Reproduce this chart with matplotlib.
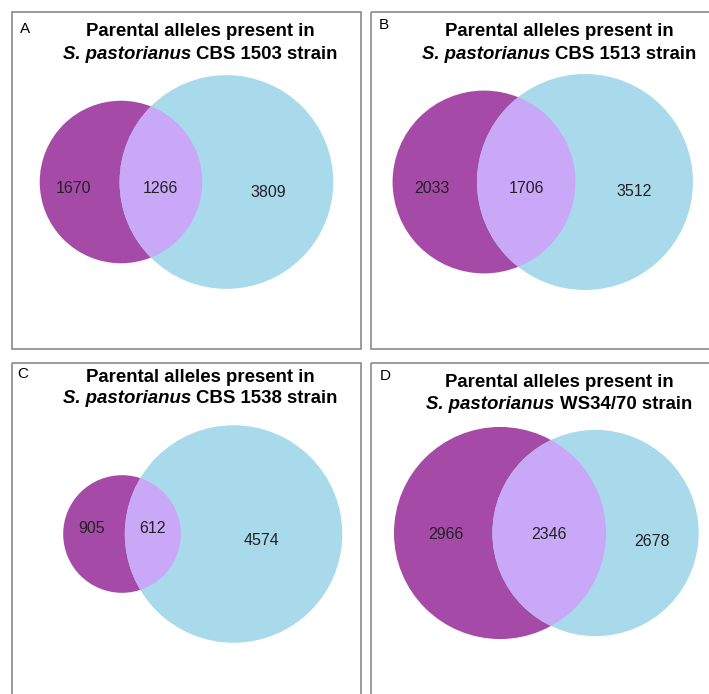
import matplotlib
matplotlib.use('Agg')

import math
import matplotlib.pyplot as plt
from matplotlib.patches import Circle, Rectangle

# counts of parental alleles per strain
PANELS = ["A", "B", "C", "D"]
STRAINS = ["CBS 1503", "CBS 1513", "CBS 1538", "WS34/70"]
LEFT_ONLY = [1670, 2033, 905, 2966]
SHARED = [1266, 1706, 612, 2346]
RIGHT_ONLY = [3809, 3512, 4574, 2678]

# layout (pixels, y pointing down)
WIDTH_PX = 709
HEIGHT_PX = 694
BOXES = [(12, 12), (371, 12), (12, 363), (371, 363)]
BOX_W = 349
BOX_H = 337
LEFT_CENTER = [(121, 182), (484, 182), (122, 534), (500, 533)]
SCALE = [1.50, 1.495, 1.51, 1.455]        # radius = SCALE * sqrt(count)
OVERLAP_GAIN = 1.18                       # lens width vs. shared fraction of smaller set
TITLE_Y = [(36, 59), (36, 59), (382, 403), (387, 409)]
LETTER_POS = [(20, 22), (379, 18), (17, 367), (380, 369)]
LABEL_DY = [(11, 15), (11, 14), (-1, 11), (6, 13)]
LEFT_LABEL_SHIFT = [-6, -3, -2, 3]

PURPLE = "#a64aa8"
LAVENDER = "#c8a8f7"
BLUE = "#a8daeb"
BORDER = "#8a8a8a"
TEXT = "#222222"

FONT = "Liberation Sans"
TITLE_SIZE = 13.4
LABEL_SIZE = 11.5


def draw_title(ax, renderer, cx, y1, y2, strain):
    ax.text(cx, y1, "Parental alleles present in", ha="center", va="baseline",
            fontsize=TITLE_SIZE, fontweight="bold", family=FONT, color="black")
    t1 = ax.text(0, y2, "S. pastorianus", ha="left", va="baseline",
                 fontsize=TITLE_SIZE, fontweight="bold", fontstyle="italic",
                 family=FONT, color="black")
    t2 = ax.text(0, y2, f"{strain} strain", ha="left", va="baseline",
                 fontsize=TITLE_SIZE, fontweight="bold", family=FONT, color="black")
    w1 = t1.get_window_extent(renderer).width
    w2 = t2.get_window_extent(renderer).width
    gap = 0.278 * TITLE_SIZE * 100 / 72
    x0 = cx - (w1 + gap + w2) / 2
    t1.set_x(x0)
    t2.set_x(x0 + w1 + gap)


def draw_panel(ax, renderer, i):
    bx, by = BOXES[i]
    ax.add_patch(Rectangle((bx, by), BOX_W, BOX_H, fill=False,
                           edgecolor=BORDER, linewidth=1.2))

    s = SCALE[i]
    n1 = LEFT_ONLY[i] + SHARED[i]
    n2 = RIGHT_ONLY[i] + SHARED[i]
    r1 = s * math.sqrt(n1)
    r2 = s * math.sqrt(n2)
    # lens width grows with the shared share of the smaller set
    frac = SHARED[i] / min(n1, n2)
    lens_w = OVERLAP_GAIN * frac * 2 * min(r1, r2)
    d = r1 + r2 - lens_w
    cx1, cy = LEFT_CENTER[i]
    cx2 = cx1 + d

    left = Circle((cx1, cy), r1, facecolor=PURPLE, edgecolor="none")
    right = Circle((cx2, cy), r2, facecolor=BLUE, edgecolor="none")
    lens = Circle((cx1, cy), r1, facecolor=LAVENDER, edgecolor="none")
    ax.add_patch(left)
    ax.add_patch(right)
    ax.add_patch(lens)
    lens.set_clip_path(right)

    # region labels at the middle of each region along the centre line
    dy_mid, dy_right = LABEL_DY[i]
    xs = [
        ((cx1 - r1) + (cx2 - r2)) / 2 + LEFT_LABEL_SHIFT[i],
        ((cx2 - r2) + (cx1 + r1)) / 2,
        ((cx1 + r1) + (cx2 + r2)) / 2,
    ]
    ys = [cy + dy_mid, cy + dy_mid, cy + dy_right]
    for x, y, n in zip(xs, ys, [LEFT_ONLY[i], SHARED[i], RIGHT_ONLY[i]]):
        ax.text(x, y, str(n), ha="center", va="baseline", fontsize=LABEL_SIZE,
                family=FONT, color=TEXT)

    lx, ly = LETTER_POS[i]
    ax.text(lx, ly, PANELS[i], ha="left", va="top", fontsize=11,
            family=FONT, color="black")

    draw_title(ax, renderer, bx + 188, TITLE_Y[i][0], TITLE_Y[i][1], STRAINS[i])


if __name__ == "__main__":
    fig = plt.figure(figsize=(WIDTH_PX / 100, HEIGHT_PX / 100), dpi=100)
    ax = fig.add_axes([0, 0, 1, 1])
    ax.set_xlim(0, WIDTH_PX)
    ax.set_ylim(HEIGHT_PX, 0)
    ax.axis("off")
    renderer = fig.canvas.get_renderer()

    for i in range(len(PANELS)):
        draw_panel(ax, renderer, i)

    fig.savefig("out.png", dpi=100, facecolor="white")
    plt.close("all")
